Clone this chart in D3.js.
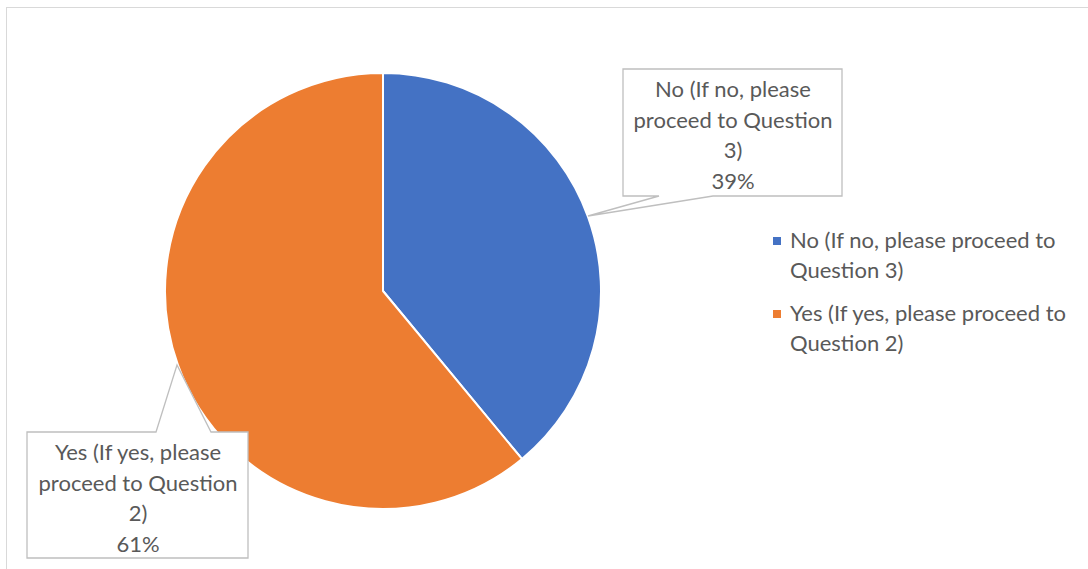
<!DOCTYPE html>
<html>
<head>
<meta charset="utf-8">
<script src="https://cdn.jsdelivr.net/npm/d3@7"></script>
<style>
  html, body { margin: 0; padding: 0; background: #fff; }
  svg { display: block; }
  text { font-family: Lato, "Open Sans", sans-serif; fill: #595959; }
</style>
</head>
<body>
<svg id="chart" width="1088" height="569"></svg>
<script>
// Survey answers and their shares (percent)
const categories = ["No (If no, please proceed to Question 3)", "Yes (If yes, please proceed to Question 2)"];
const values = [39, 61];
const colors = ["#4472C4", "#ED7D31"];
const calloutLines = [
  ["No (If no, please", "proceed to Question", "3)"],
  ["Yes (If yes, please", "proceed to Question", "2)"]
];
const legendLines = [
  ["No (If no, please proceed to", "Question 3)"],
  ["Yes (If yes, please proceed to", "Question 2)"]
];

const svg = d3.select("#chart");
const W = 1088, H = 569;
const fontSize = 22;

// Chart frame
svg.append("rect")
  .attr("x", 6.5).attr("y", 7.5)
  .attr("width", W + 10).attr("height", H + 10)
  .attr("fill", "#fff").attr("stroke", "#d9d9d9").attr("stroke-width", 1);

const cx = 383, cy = 291, r = 218;

const pie = d3.pie().sort(null).value(d => d);
const arcs = pie(values);
const arc = d3.arc().innerRadius(0).outerRadius(r);

const g = svg.append("g").attr("transform", `translate(${cx},${cy})`);
g.selectAll("path")
  .data(arcs)
  .join("path")
  .attr("d", arc)
  .attr("fill", (d, i) => colors[i])
  .attr("stroke", "#fff")
  .attr("stroke-width", 2)
  .attr("stroke-linejoin", "round");

// Data callouts: box with a wedge-shaped pointer toward the slice
const callouts = [
  { box: [623, 69, 219, 127], side: "bottom", base: [659, 713], tip: [588, 216] },
  { box: [27, 432, 221, 126], side: "top", base: [156, 211], tip: [177, 365] }
];

callouts.forEach((c, i) => {
  const [x, y, w, h] = c.box;
  let pts;
  if (c.side === "bottom") {
    pts = [[x, y], [x + w, y], [x + w, y + h], [c.base[1], y + h], c.tip, [c.base[0], y + h], [x, y + h]];
  } else {
    pts = [[x, y], [c.base[0], y], c.tip, [c.base[1], y], [x + w, y], [x + w, y + h], [x, y + h]];
  }
  svg.append("path")
    .attr("d", d3.line()(pts) + "Z")
    .attr("fill", "#fff")
    .attr("stroke", "#bfbfbf")
    .attr("stroke-width", 1.3);

  const lines = calloutLines[i].concat([d3.format(".0%")(values[i] / 100)]);
  const t = svg.append("text")
    .attr("text-anchor", "middle")
    .attr("font-size", fontSize);
  lines.forEach((ln, j) => {
    t.append("tspan")
      .attr("x", x + w / 2 + 0.5)
      .attr("y", y + 28 + j * 30.5)
      .text(ln);
  });
});

// Legend
const legendY = [248, 321];
legendLines.forEach((lines, i) => {
  svg.append("rect")
    .attr("x", 773).attr("y", legendY[i] - 11)
    .attr("width", 8).attr("height", 8)
    .attr("fill", colors[i]);
  const t = svg.append("text").attr("font-size", fontSize);
  lines.forEach((ln, j) => {
    t.append("tspan").attr("x", 790).attr("y", legendY[i] + j * 30).text(ln);
  });
});
</script>
</body>
</html>
